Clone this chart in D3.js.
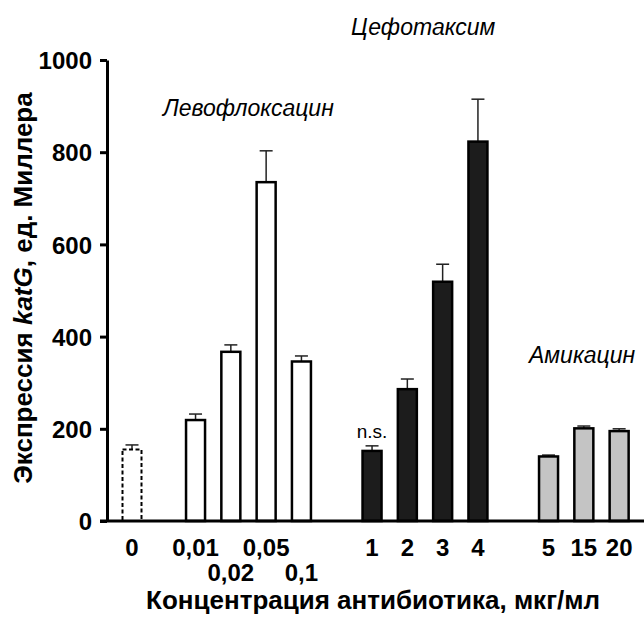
<!DOCTYPE html>
<html lang="ru">
<head>
  <meta charset="UTF-8">
  <title>katG expression</title>
  <style>
    body { margin: 0; background: #fff; }
    svg { display: block; font-family: "Liberation Sans", Arial, sans-serif; }
    .tick text { font-weight: bold; font-size: 24px; fill: #000; font-family: "Liberation Sans", Arial, sans-serif; }
    .grp { font-style: italic; font-size: 23px; }
  </style>
</head>
<body>
  <svg width="644" height="622"></svg>
  <script src="https://d3js.org/d3.v7.min.js"></script>
  <script>
    // data
    const categories = ["0", "0,01", "0,02", "0,05", "0,1", "1", "2", "3", "4", "5", "15", "20"];
    const groups = ["ctrl", "levo", "levo", "levo", "levo", "cefo", "cefo", "cefo", "cefo", "amik", "amik", "amik"];
    const values = [155, 219, 367, 735, 346, 152, 286, 519, 823, 140, 201, 195];
    const errors = [10, 13, 15, 68, 12, 11, 22, 38, 92, 3, 5, 5];
    const labelRow = [0, 0, 1, 0, 1, 0, 0, 0, 0, 0, 0, 0];
    const yTicks = [0, 200, 400, 600, 800, 1000];
    const groupNames = ["Левофлоксацин", "Цефотаксим", "Амикацин"];

    const svg = d3.select("svg");
    const fills = { ctrl: "none", levo: "#fff", cefo: "#1c1c1c", amik: "#c4c4c4" };
    const gapBefore = { levo: 0.8, cefo: 1, amik: 1 };

    // slot index for each bar (groups separated by an empty slot)
    const slots = [];
    categories.forEach((c, i) => {
      if (i === 0) { slots.push(0); return; }
      const gap = groups[i] !== groups[i - 1] ? gapBefore[groups[i]] : 0;
      slots.push(slots[i - 1] + 1 + gap);
    });

    const x = d3.scaleLinear().domain([0, 1]).range([132, 167.3]);
    const y = d3.scaleLinear().domain([0, 1000]).range([521, 60]);
    const bw = 19, cap = 13;

    const bars = categories.map((c, i) => ({
      cat: c, grp: groups[i], v: values[i], e: errors[i], row: labelRow[i], cx: x(slots[i])
    }));

    // error bars
    const eg = svg.append("g");
    eg.selectAll("line.stem").data(bars).join("line")
      .attr("x1", d => d.cx).attr("x2", d => d.cx)
      .attr("y1", d => y(d.v)).attr("y2", d => y(d.v + d.e))
      .attr("stroke", "#222").attr("stroke-width", 1.5);
    eg.selectAll("line.cap").data(bars).join("line")
      .attr("x1", d => d.cx - cap / 2).attr("x2", d => d.cx + cap / 2)
      .attr("y1", d => y(d.v + d.e)).attr("y2", d => y(d.v + d.e))
      .attr("stroke", "#222").attr("stroke-width", 1.5);

    // bars
    svg.append("g").selectAll("rect").data(bars).join("rect")
      .attr("x", d => d.cx - bw / 2)
      .attr("width", bw)
      .attr("y", d => y(d.v))
      .attr("height", d => y(0) - y(d.v))
      .attr("fill", d => fills[d.grp])
      .attr("stroke", "#000")
      .attr("stroke-width", d => d.grp === "ctrl" ? 2 : 2.5)
      .attr("stroke-dasharray", d => d.grp === "ctrl" ? "4,2.5" : null);

    // y axis
    const yAxis = svg.append("g").attr("transform", "translate(107,0)")
      .call(d3.axisLeft(y).tickValues(yTicks).tickFormat(d3.format("d"))
        .tickSize(7).tickPadding(8).tickSizeOuter(0));
    yAxis.select(".domain").attr("stroke-width", 3);
    yAxis.selectAll(".tick line").attr("stroke-width", 3);
    yAxis.selectAll(".tick text").attr("dy", "0.36em");

    // x axis line
    svg.append("line")
      .attr("x1", 100).attr("x2", 644)
      .attr("y1", y(0)).attr("y2", y(0))
      .attr("stroke", "#000").attr("stroke-width", 3);

    // category labels
    svg.append("g").selectAll("text").data(bars).join("text")
      .attr("x", d => d.cx)
      .attr("y", d => d.row ? 581 : 556)
      .attr("text-anchor", "middle")
      .attr("font-weight", "bold").attr("font-size", 24)
      .text(d => d.cat);

    // axis titles
    svg.append("text")
      .attr("x", 373).attr("y", 609)
      .attr("text-anchor", "middle")
      .attr("font-weight", "bold").attr("font-size", 26)
      .text("Концентрация антибиотика, мкг/мл");

    const yt = svg.append("text")
      .attr("transform", "translate(32,288) rotate(-90)")
      .attr("text-anchor", "middle")
      .attr("font-weight", "bold").attr("font-size", 26);
    yt.append("tspan").text("Экспрессия ");
    yt.append("tspan").attr("font-style", "italic").text("katG");
    yt.append("tspan").text(", ед. Миллера");

    // group names
    const gl = [[163, 116], [351, 35], [529, 363]];
    svg.append("g").selectAll("text").data(groupNames).join("text")
      .attr("class", "grp")
      .attr("x", (d, i) => gl[i][0]).attr("y", (d, i) => gl[i][1])
      .text(d => d);

    // significance note on the first cefotaxime bar
    const ns = bars[5];
    svg.append("text")
      .attr("x", ns.cx).attr("y", y(ns.v + ns.e) - 8)
      .attr("text-anchor", "middle").attr("font-size", 19)
      .text("n.s.");
  </script>
</body>
</html>
